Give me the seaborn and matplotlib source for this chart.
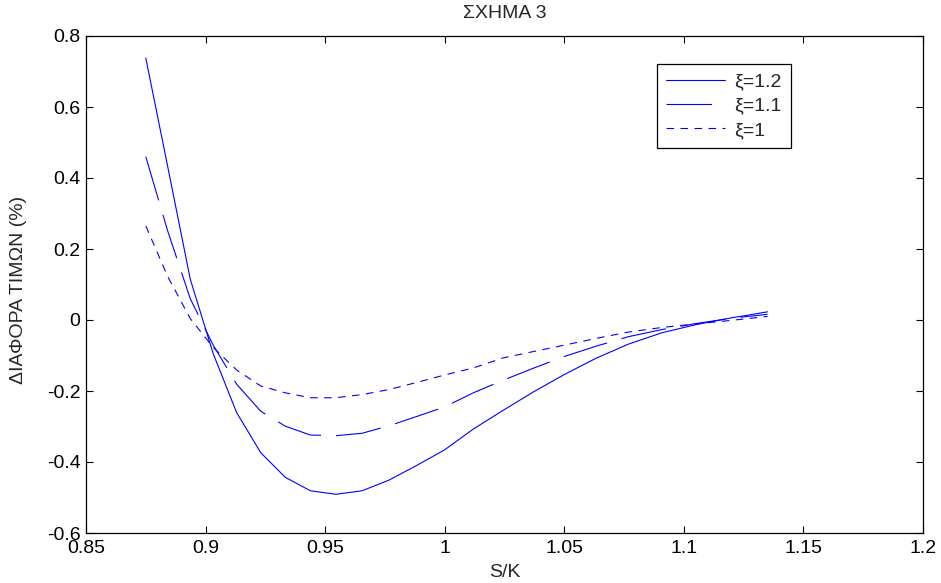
import matplotlib
matplotlib.use("Agg")
import matplotlib.pyplot as plt
import pandas as pd
import seaborn as sns

# S/K grid and price differences (%) for the three values of xi
s_over_k = [0.8750, 0.8842, 0.8936, 0.9032, 0.9130, 0.9231, 0.9333, 0.9438,
            0.9545, 0.9655, 0.9767, 0.9882, 0.9999, 1.0120, 1.0243, 1.0370,
            1.0499, 1.0632, 1.0768, 1.0908, 1.1051, 1.1199, 1.1350]
diff_xi_12 = [0.738, 0.431, 0.115, -0.095, -0.261, -0.374, -0.443, -0.481,
              -0.491, -0.481, -0.451, -0.410, -0.366, -0.307, -0.255, -0.203,
              -0.154, -0.108, -0.068, -0.036, -0.013, 0.006, 0.023]
diff_xi_11 = [0.460, 0.250, 0.060, -0.071, -0.181, -0.257, -0.299, -0.324,
              -0.326, -0.319, -0.298, -0.272, -0.245, -0.205, -0.170, -0.136,
              -0.103, -0.074, -0.047, -0.027, -0.010, 0.005, 0.016]
diff_xi_10 = [0.265, 0.122, 0.004, -0.077, -0.141, -0.186, -0.205, -0.219,
              -0.219, -0.210, -0.196, -0.176, -0.155, -0.135, -0.107, -0.089,
              -0.071, -0.052, -0.034, -0.021, -0.011, -0.001, 0.010]
series_labels = ["ξ=1.2", "ξ=1.1", "ξ=1"]

x_ticks = [0.85, 0.9, 0.95, 1.0, 1.05, 1.1, 1.15, 1.2]
x_tick_labels = ["0.85", "0.9", "0.95", "1", "1.05", "1.1", "1.15", "1.2"]
y_ticks = [-0.6, -0.4, -0.2, 0.0, 0.2, 0.4, 0.6, 0.8]
y_tick_labels = ["-0.6", "-0.4", "-0.2", "0", "0.2", "0.4", "0.6", "0.8"]

sns.set_style("ticks")
plt.rcParams["font.family"] = ["Liberation Sans", "DejaVu Sans"]
plt.rcParams["font.size"] = 14

fig = plt.figure(figsize=(9.41, 5.83), dpi=100)
ax = fig.add_axes([86 / 941, 1 - 533 / 583, 837 / 941, 497 / 583])

line_styles = ["-", (0, (41, 13.5)), (0, (6.8, 5.8))]
for values, label, ls in zip([diff_xi_12, diff_xi_11, diff_xi_10],
                             series_labels, line_styles):
    df = pd.DataFrame({"S/K": s_over_k, "diff": values})
    sns.lineplot(data=df, x="S/K", y="diff", ax=ax, color="#0000ff",
                 linewidth=0.8, linestyle=ls, label=label)

ax.set_xlim(0.85, 1.2)
ax.set_ylim(-0.6, 0.8)
ax.set_xticks(x_ticks)
ax.set_xticklabels(x_tick_labels)
ax.set_yticks(y_ticks)
ax.set_yticklabels(y_tick_labels)
ax.tick_params(direction="in", top=True, right=True, length=5, width=0.8,
               colors="black", labelsize=14)
ax.tick_params(axis="y", pad=4)
ax.tick_params(axis="x", pad=5)
for sp in ax.spines.values():
    sp.set_visible(True)
    sp.set_linewidth(0.9)
    sp.set_color("black")

ax.set_title("ΣΧΗΜΑ 3", fontsize=14, pad=13)
ax.set_xlabel("S/K", fontsize=14)
ax.set_ylabel("ΔΙΑΦΟΡΑ ΤΙΜΩΝ (%)", fontsize=14)
ax.xaxis.set_label_coords(0.5, -0.062)
ax.yaxis.set_label_coords(-0.0705, 0.49)

leg = ax.legend(loc="upper left", bbox_to_anchor=(0.682, 0.9437),
                borderaxespad=0, fancybox=False, framealpha=1,
                edgecolor="black", fontsize=14, handlelength=3.05,
                handletextpad=0.5, labelspacing=0.35, borderpad=0.45)
leg.get_frame().set_linewidth(0.9)

fig.savefig("out.png", dpi=100)
